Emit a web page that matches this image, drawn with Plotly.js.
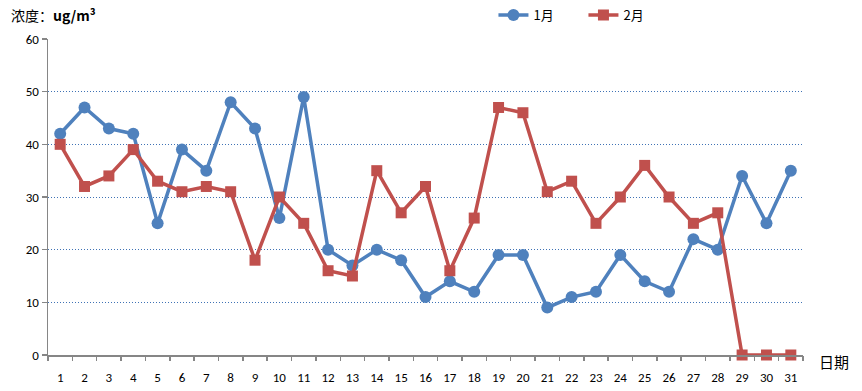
<!DOCTYPE html>
<html><head><meta charset="utf-8">
<script src="https://cdn.plot.ly/plotly-3.0.1.min.js"></script>
<style>body{margin:0;background:#fff}#c{width:862px;height:391px}</style>
</head><body><div id="c"></div>
<script>
const days = [1,2,3,4,5,6,7,8,9,10,11,12,13,14,15,16,17,18,19,20,21,22,23,24,25,26,27,28,29,30,31];
const jan = [42,47,43,42,25,39,35,48,43,26,49,20,17,20,18,11,14,12,19,19,9,11,12,19,14,12,22,20,34,25,35];
const feb = [40,32,34,39,33,31,32,31,18,30,25,16,15,35,27,32,16,26,47,46,31,33,25,30,36,30,25,27,0,0,0];
const yTicks = [0,10,20,30,40,50,60];
const names = ['1月','2月'];
const bounds = days.map(d => d - 0.5).concat([days.length + 0.5]);

const font = 'Calibri, Carlito, "Liberation Sans", "Noto Sans CJK SC", sans-serif';
const traces = [
  {x: days, y: jan, name: names[0], type: 'scatter', mode: 'lines+markers', cliponaxis: false,
   line: {color: '#4F81BD', width: 3.5}, marker: {symbol: 'circle', size: 12, color: '#4F81BD'}},
  {x: days, y: feb, name: names[1], type: 'scatter', mode: 'lines+markers', cliponaxis: false,
   line: {color: '#C0504D', width: 3.5}, marker: {symbol: 'square', size: 11, color: '#C0504D'}},
  {x: [days[0]], y: [null], xaxis: 'x2', showlegend: false, hoverinfo: 'skip', type: 'scatter'}
];
const layout = {
  width: 862, height: 391,
  margin: {l: 48, r: 59, t: 39, b: 36, autoexpand: false},
  paper_bgcolor: '#fff', plot_bgcolor: '#fff',
  font: {family: font, size: 13, color: '#000'},
  showlegend: true,
  legend: {orientation: 'h', x: 0.59, y: 1.076, xanchor: 'left', yanchor: 'middle',
           font: {family: '"Noto Sans CJK SC", sans-serif', size: 13, color: '#000'}, entrywidth: 45},
  xaxis: {range: [0.5, 31.5], tickmode: 'array', tickvals: days, ticktext: days.map(String),
          ticks: '', showgrid: false, zeroline: false, showline: true, linecolor: '#868686', linewidth: 1.5,
          tickfont: {size: 13}, ticklabelstandoff: 10, fixedrange: true},
  xaxis2: {overlaying: 'x', range: [0.5, 31.5], tickmode: 'array', tickvals: bounds, showticklabels: false,
           ticks: 'outside', ticklen: 5, tickcolor: '#868686', tickwidth: 1.5, showgrid: false, zeroline: false, showline: false},
  yaxis: {range: [0, 60], tickmode: 'array', tickvals: yTicks, ticks: 'outside', ticklen: 5, tickcolor: '#868686', tickwidth: 1.5,
          showline: true, linecolor: '#868686', linewidth: 1.5, gridcolor: '#3F72B5', griddash: '1px,2px', gridwidth: 1,
          zeroline: false, tickfont: {size: 13}, fixedrange: true},
  annotations: [
    {text: '浓度：<b>ug/m³</b>', xref: 'paper', yref: 'paper', x: -0.052, y: 1.077, xanchor: 'left', yanchor: 'middle',
     showarrow: false, font: {family: '"Noto Sans CJK SC", sans-serif', size: 14, color: '#000'}},
    {text: '日期', xref: 'paper', yref: 'paper', x: 1.018, y: -0.02, xanchor: 'left', yanchor: 'middle',
     showarrow: false, font: {family: '"Noto Sans CJK SC", sans-serif', size: 15, color: '#000'}}
  ]
};
Plotly.newPlot('c', traces, layout, {displayModeBar: false, staticPlot: true});
</script></body></html>
